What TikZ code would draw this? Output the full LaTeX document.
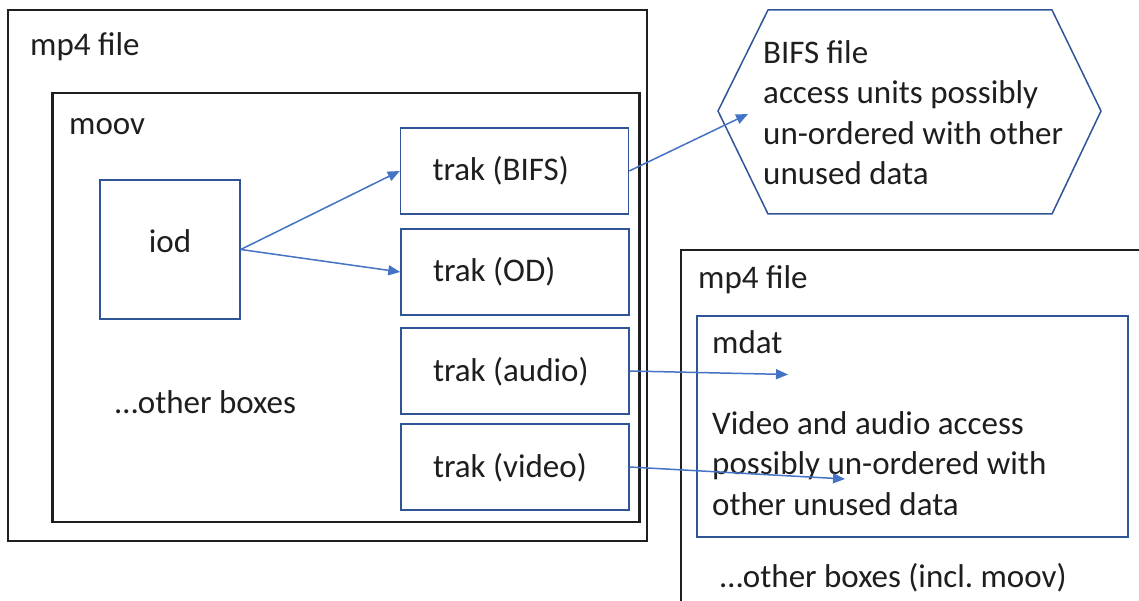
\documentclass[tikz,border=0pt]{standalone}
\usepackage{fontspec}
\setmainfont{Carlito}
\usetikzlibrary{arrows.meta}
\definecolor{boxblue}{RGB}{47,85,151}
\definecolor{arrblue}{RGB}{68,114,196}
\definecolor{txt}{RGB}{30,30,30}
\frenchspacing
\begin{document}
\begin{tikzpicture}[x=1pt,y=-1pt,
  every node/.style={font=\fontsize{33}{40.5}\selectfont, text=txt, inner sep=0pt},
  blackbox/.style={draw=black!88, line width=2.5pt},
  bluebox/.style={draw=boxblue, line width=1.5pt},
  trakbox/.style={bluebox, minimum width=228pt, minimum height=86pt, text width=164pt, align=flush left, text height=22pt, text depth=2pt},
  conn/.style={draw=arrblue, line width=1.5pt, -{Triangle[length=12pt,width=10pt]}},
  lbl/.style={anchor=base west},
  multi/.style={anchor=base west, align=left}]
\useasboundingbox (0,0) rectangle (1139,601);
% left mp4 file
\node[blackbox, minimum width=639pt, minimum height=531pt] (file1) at (327.5,275.5) {};
\node[lbl] (file1lbl) at (30,56) {mp4 file};
\node[blackbox, minimum width=587pt, minimum height=429pt] (moov) at (346,307.5) {};
\node[lbl] (moovlbl) at (69,135) {moov};
\node[bluebox, minimum width=140pt, minimum height=139pt, text height=9pt, text depth=2pt] (iod) at (170,249.5) {iod};
\node[trakbox] (bifs) at (514.5,171) {trak (BIFS)};
\node[trakbox] (od) at (515,272) {trak (OD)};
\node[trakbox] (audio) at (515,371) {trak (audio)};
\node[trakbox] (video) at (515,467) {trak (video)};
\node[lbl] (other1) at (115,413) {\ldots other boxes};
% BIFS file hexagon
\draw[bluebox, line join=miter] (718,111) -- (768,10) -- (1052,10) -- (1101,111) -- (1052,214) -- (768,214) -- cycle;
\node[multi] (bifsfile) at (763,185) {BIFS file\\access units possibly\\un-ordered with other\\unused data};
% right mp4 file
\draw[draw=black!88, line width=1.5pt] (1139,250) -- (681,250) -- (681,601);
\node[lbl] (file2lbl) at (698,288) {mp4 file};
\node[bluebox, minimum width=431pt, minimum height=221pt] (mdat) at (912.5,426.5) {};
\node[lbl] (mdatlbl) at (712,353) {mdat};
\node[multi] (mdattxt) at (712,515) {Video and audio access\\possibly un-ordered with\\other unused data};
\node[lbl] (other2) at (720,587) {\ldots other boxes (incl. moov)};
% connectors
\coordinate (bifsend) at (748,114);
\coordinate (audioend) at (788,374.5);
\coordinate (videoend) at (845,479);
\draw[conn] (iod.east) -- (bifs.west);
\draw[conn] (iod.east) -- (od.west);
\draw[conn] (bifs.east) -- (bifsend);
\draw[conn] (audio.east) -- (audioend);
\draw[conn] (video.east) -- (videoend);
\end{tikzpicture}
\end{document}
